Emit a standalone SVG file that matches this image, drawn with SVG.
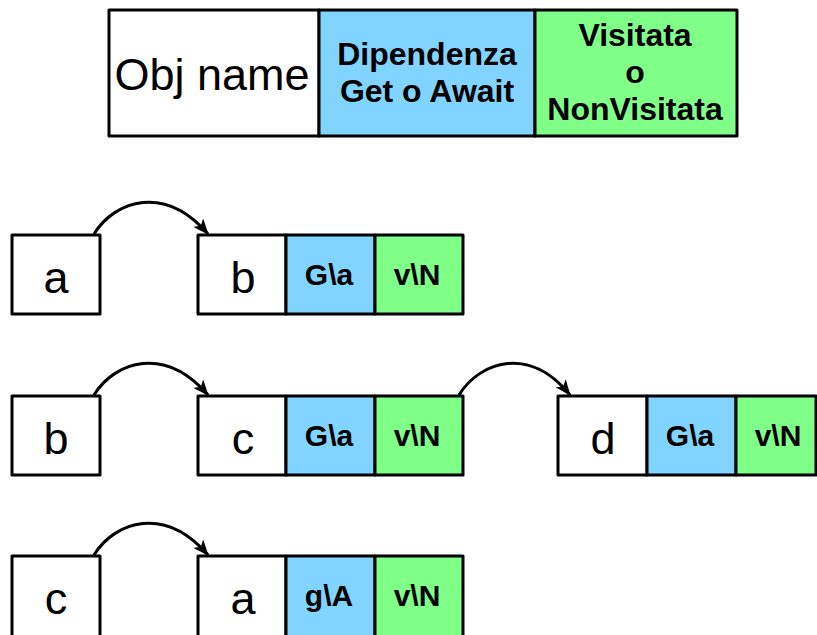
<svg xmlns="http://www.w3.org/2000/svg" width="817" height="635" viewBox="0 0 817 635">
<style>
.cell{stroke:#000;stroke-width:3;stroke-linejoin:round}
.w{fill:#fff}.b{fill:#80D4FF}.g{fill:#80FF88}
.big{font-family:"Liberation Sans",Arial,sans-serif;font-size:45px;text-anchor:middle;fill:#000}
.sm{font-family:"Liberation Sans",Arial,sans-serif;font-size:30px;font-weight:bold;text-anchor:middle;fill:#000}
.hd{font-family:"Liberation Sans",Arial,sans-serif;font-size:32px;font-weight:bold;text-anchor:middle;fill:#000}
.conn{fill:none;stroke:#000;stroke-width:3}
</style>
<defs>
<marker id="ah" markerWidth="16" markerHeight="13" refX="15" refY="6.5" orient="auto" markerUnits="userSpaceOnUse" viewBox="0 0 16 13">
<path d="M0,0 L16,6.5 L0,13 L4,6.5 z" fill="#000"/>
</marker>
</defs>
<rect width="817" height="635" fill="#fff"/>
<g id="legend">
<rect class="cell w" x="109" y="10" width="210" height="126"/>
<rect class="cell b" x="319" y="10" width="216" height="126"/>
<rect class="cell g" x="535" y="10" width="202" height="126"/>
<text class="big" x="212" y="90" font-size="44">Obj name</text>
<text class="hd" x="427" y="65">Dipendenza</text>
<text class="hd" x="427" y="102">Get o Await</text>
<text class="hd" x="635" y="46">Visitata</text>
<text class="hd" x="635" y="83">o</text>
<text class="hd" x="635" y="120">NonVisitata</text>
</g>
<g id="row1-a">
<rect class="cell w" x="12" y="235" width="88" height="79"/>
<text class="big" x="56" y="293">a</text>
</g>
<g id="row1-b">
<rect class="cell w" x="198" y="235" width="88" height="79"/>
<rect class="cell b" x="286" y="235" width="89" height="79"/>
<rect class="cell g" x="375" y="235" width="88" height="79"/>
<text class="big" x="243" y="293">b</text>
<text class="sm" x="329" y="285">G\a</text>
<text class="sm" x="417" y="285">v\N</text>
</g>
<g id="row2-b">
<rect class="cell w" x="12" y="396" width="88" height="79"/>
<text class="big" x="56" y="454">b</text>
</g>
<g id="row2-c">
<rect class="cell w" x="198" y="396" width="88" height="79"/>
<rect class="cell b" x="286" y="396" width="89" height="79"/>
<rect class="cell g" x="375" y="396" width="88" height="79"/>
<text class="big" x="243" y="454">c</text>
<text class="sm" x="329" y="446">G\a</text>
<text class="sm" x="417" y="446">v\N</text>
</g>
<g id="row2-d">
<rect class="cell w" x="558" y="396" width="89" height="79"/>
<rect class="cell b" x="647" y="396" width="89" height="79"/>
<rect class="cell g" x="736" y="396" width="80" height="79"/>
<text class="big" x="603" y="454">d</text>
<text class="sm" x="690" y="446">G\a</text>
<text class="sm" x="778" y="446">v\N</text>
</g>
<g id="row3-c">
<rect class="cell w" x="12" y="556" width="88" height="81"/>
<text class="big" x="56" y="614">c</text>
</g>
<g id="row3-a">
<rect class="cell w" x="198" y="556" width="88" height="81"/>
<rect class="cell b" x="286" y="556" width="89" height="81"/>
<rect class="cell g" x="375" y="556" width="88" height="81"/>
<text class="big" x="243" y="614">a</text>
<text class="sm" x="329" y="606">g\A</text>
<text class="sm" x="417" y="606">v\N</text>
</g>
<g id="connectors">
<path class="conn" marker-end="url(#ah)" d="M94,234 C115,200 165,184 208,234"/>
<path class="conn" marker-end="url(#ah)" d="M94,395 C115,361 165,345 208,395"/>
<path class="conn" marker-end="url(#ah)" d="M459,395 C480,361 530,345 570,395"/>
<path class="conn" marker-end="url(#ah)" d="M94,555 C115,521 165,505 208,555"/>
</g>
</svg>
